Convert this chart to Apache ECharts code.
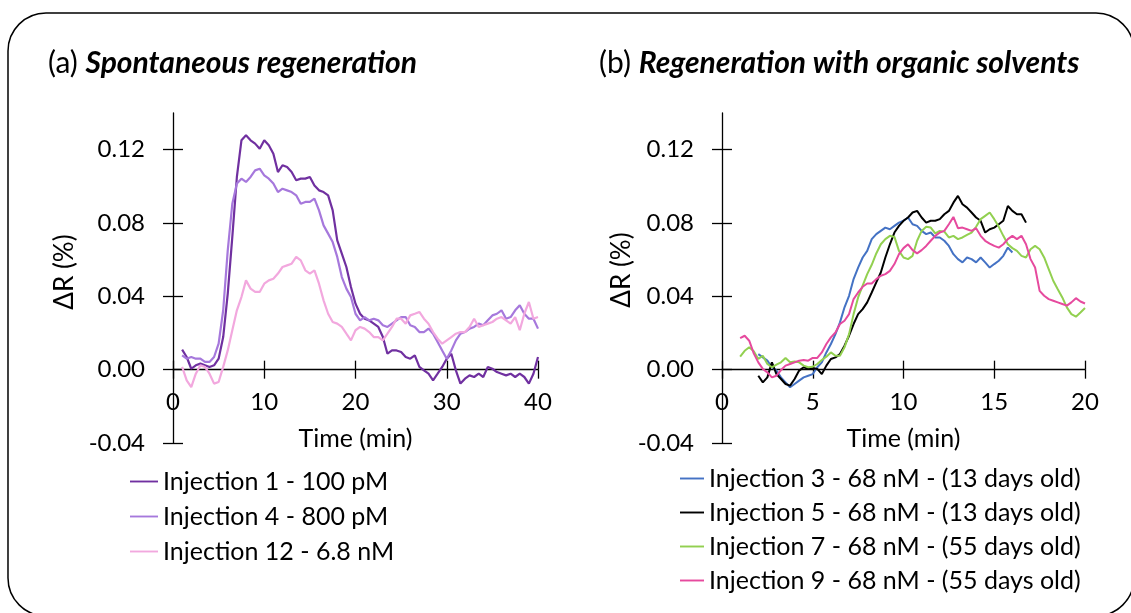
<!DOCTYPE html>
<html><head><meta charset="utf-8">
<script src="https://cdn.jsdelivr.net/npm/echarts@6/dist/echarts.min.js"></script>
<style>html,body{margin:0;padding:0;background:#fff}#c{width:1131px;height:613px}</style>
</head><body><div id="c"></div>
<script>
const FONT = 'Lato';

// ---- panel titles / axis texts ----
const titleA = ['(a) ', 'Spontaneous regeneration'];
const titleB = ['(b) ', 'Regeneration with organic solvents'];
const xName = 'Time (min)';
const yName = 'ΔR (%)';

// ---- tick values ----
const yTicks = [-0.04, 0, 0.04, 0.08, 0.12];
const leftXTicks = [0, 10, 20, 30, 40];
const rightXTicks = [0, 5, 10, 15, 20];

// ---- series names ----
const leftNames = ['Injection 1 - 100 pM', 'Injection 4 - 800 pM', 'Injection 12 - 6.8 nM'];
const rightNames = ['Injection 3 - 68 nM - (13 days old)', 'Injection 5 - 68 nM - (13 days old)',
  'Injection 7 - 68 nM - (55 days old)', 'Injection 9 - 68 nM - (55 days old)'];

// ---- left panel: samples every 0.5 min from t = 1 min ----
const leftStart = 1, leftStep = 0.5;
const inj1 = [0.0109,0.0069,0.0005,0.0024,0.0033,0.0024,0.0015,0.0024,0.0060,0.0178,
  0.0415,0.0724,0.1051,0.1251,0.1278,0.1251,0.1233,0.1205,0.1251,0.1224,
  0.1178,0.1078,0.1115,0.1105,0.1078,0.1033,0.1042,0.1042,0.1051,0.1005,
  0.0978,0.0969,0.0951,0.0869,0.0705,0.0633,0.0560,0.0451,0.0360,0.0305,
  0.0278,0.0269,0.0251,0.0233,0.0178,0.0087,0.0105,0.0105,0.0096,0.0069,
  0.0060,0.0078,0.0015,-0.0004,-0.0022,-0.0058,-0.0022,0.0015,0.0060,0.0087,
  -0.0004,-0.0076,-0.0049,-0.0031,-0.0040,-0.0022,-0.0040,0.0015,0.0005,-0.0013,
  -0.0022,-0.0031,-0.0022,-0.0040,-0.0022,-0.0040,-0.0076,-0.0022,0.0069];
const inj4 = [0.0078,0.0060,0.0069,0.0060,0.0060,0.0042,0.0042,0.0069,0.0142,0.0324,
  0.0651,0.0905,0.1015,0.1042,0.1024,0.1051,0.1087,0.1096,0.1060,0.1042,
  0.1015,0.0969,0.0987,0.0978,0.0969,0.0951,0.0905,0.0915,0.0915,0.0933,
  0.0869,0.0787,0.0742,0.0696,0.0615,0.0505,0.0442,0.0396,0.0305,0.0269,
  0.0287,0.0269,0.0278,0.0269,0.0242,0.0233,0.0251,0.0269,0.0287,0.0287,
  0.0242,0.0233,0.0205,0.0205,0.0224,0.0196,0.0151,0.0105,0.0060,0.0105,
  0.0160,0.0196,0.0205,0.0224,0.0233,0.0251,0.0242,0.0269,0.0296,0.0305,
  0.0324,0.0278,0.0287,0.0324,0.0351,0.0305,0.0278,0.0278,0.0224];
const inj12 = [0.0015,-0.0058,-0.0095,-0.0022,0.0024,0.0015,-0.0022,-0.0076,-0.0067,0.0015,
  0.0105,0.0215,0.0324,0.0396,0.0487,0.0442,0.0424,0.0424,0.0469,0.0487,
  0.0496,0.0524,0.0560,0.0569,0.0578,0.0615,0.0596,0.0542,0.0524,0.0542,
  0.0469,0.0378,0.0305,0.0260,0.0251,0.0233,0.0196,0.0160,0.0215,0.0233,
  0.0224,0.0205,0.0178,0.0178,0.0160,0.0196,0.0233,0.0278,0.0278,0.0251,
  0.0296,0.0305,0.0315,0.0278,0.0251,0.0205,0.0169,0.0142,0.0160,0.0178,
  0.0196,0.0205,0.0205,0.0233,0.0278,0.0233,0.0242,0.0251,0.0260,0.0278,
  0.0287,0.0269,0.0251,0.0287,0.0215,0.0305,0.0369,0.0278,0.0287];

// ---- right panel: samples every 0.25 min ----
const rightStep = 0.25;
const inj3Start = 2;
const inj3 = [0.0085,0.0067,0.0049,0.0013,-0.0005,-0.0042,-0.0069,-0.0096,-0.0078,-0.0060,
  -0.0042,-0.0033,-0.0024,0.0013,0.0040,0.0094,0.0140,0.0194,0.0258,0.0340,
  0.0403,0.0494,0.0557,0.0612,0.0648,0.0712,0.0739,0.0757,0.0775,0.0766,
  0.0784,0.0802,0.0812,0.0830,0.0793,0.0784,0.0757,0.0739,0.0748,0.0721,
  0.0721,0.0703,0.0675,0.0630,0.0603,0.0585,0.0612,0.0603,0.0585,0.0612,
  0.0585,0.0557,0.0576,0.0594,0.0621,0.0666,0.0639];
const inj5Start = 2;
const inj5 = [-0.0033,-0.0069,-0.0042,0.0040,-0.0024,-0.0051,-0.0078,-0.0087,-0.0051,-0.0005,
  0.0013,0.0004,0.0009,0.0004,-0.0024,0.0022,0.0058,0.0067,0.0085,0.0131,
  0.0185,0.0249,0.0303,0.0330,0.0367,0.0421,0.0476,0.0530,0.0612,0.0684,
  0.0748,0.0784,0.0812,0.0830,0.0857,0.0866,0.0830,0.0802,0.0812,0.0812,
  0.0821,0.0848,0.0866,0.0911,0.0948,0.0902,0.0884,0.0857,0.0830,0.0812,
  0.0748,0.0766,0.0775,0.0793,0.0812,0.0893,0.0866,0.0848,0.0848,0.0802];
const inj7Start = 1;
const inj7 = [0.0071,0.0103,0.0122,0.0100,0.0058,0.0076,0.0031,0.0013,0.0027,0.0040,
  0.0064,0.0040,0.0045,0.0040,0.0022,0.0013,0.0016,0.0031,0.0053,0.0071,
  0.0094,0.0076,0.0076,0.0122,0.0194,0.0303,0.0394,0.0458,0.0521,0.0572,
  0.0634,0.0684,0.0712,0.0730,0.0724,0.0648,0.0612,0.0603,0.0621,0.0703,
  0.0757,0.0779,0.0775,0.0743,0.0757,0.0753,0.0721,0.0730,0.0712,0.0721,
  0.0735,0.0748,0.0779,0.0821,0.0839,0.0857,0.0821,0.0779,0.0730,0.0684,
  0.0663,0.0648,0.0621,0.0612,0.0657,0.0675,0.0657,0.0612,0.0548,0.0485,
  0.0439,0.0394,0.0340,0.0303,0.0289,0.0312,0.0336];
const inj9Start = 1;
const inj9 = [0.0172,0.0185,0.0158,0.0089,0.0040,0.0004,-0.0015,-0.0042,-0.0033,-0.0002,
  0.0022,0.0031,0.0040,0.0049,0.0053,0.0049,0.0064,0.0064,0.0094,0.0140,
  0.0176,0.0203,0.0249,0.0267,0.0303,0.0385,0.0421,0.0452,0.0470,0.0470,
  0.0494,0.0512,0.0521,0.0539,0.0576,0.0630,0.0663,0.0684,0.0652,0.0634,
  0.0652,0.0675,0.0703,0.0730,0.0748,0.0757,0.0793,0.0833,0.0772,0.0775,
  0.0766,0.0757,0.0772,0.0730,0.0703,0.0688,0.0675,0.0666,0.0684,0.0712,
  0.0730,0.0712,0.0730,0.0684,0.0603,0.0557,0.0430,0.0403,0.0385,0.0376,
  0.0367,0.0358,0.0349,0.0367,0.0390,0.0372,0.0361];

const leftColors = ['#7030A0', '#A678DC', '#F2A8DE'];
const rightColors = ['#4472C4', '#000000', '#92D050', '#E64A9E'];

const pair = (t0, dt, vals) => vals.map((v, i) => [Math.round((t0 + i * dt) * 100) / 100, v]);

const black = '#000';
const axisLineStyle = { color: black, width: 1.3 };
const txt = { color: black, fontFamily: FONT };
const yMin = -0.04, yMax = 0.14;

function xRange(ticks) {
  return { type: 'value', min: ticks[0], max: ticks[ticks.length - 1], interval: ticks[1] - ticks[0], position: 'bottom' };
}
// x axis line + outward ticks, sitting on y = 0
function xLine(grid, ticks) {
  return { gridIndex: grid, ...xRange(ticks),
    axisLine: { show: true, onZero: true, lineStyle: axisLineStyle },
    axisTick: { show: true, inside: false, length: 9, lineStyle: axisLineStyle },
    axisLabel: { show: false }, splitLine: { show: false } };
}
// inward ticks, sitting on y = 0
function xInner(grid, ticks) {
  return { gridIndex: grid, ...xRange(ticks),
    axisLine: { show: false, onZero: true },
    axisTick: { show: true, inside: true, length: 9, lineStyle: axisLineStyle },
    axisLabel: { show: false }, splitLine: { show: false } };
}
// labels + title, on a grid whose bottom edge is the y = 0 line
function xLabels(grid, ticks) {
  return { gridIndex: grid, ...xRange(ticks),
    axisLine: { show: false, onZero: false }, axisTick: { show: false },
    axisLabel: { show: true, margin: 21, fontSize: 24, ...txt },
    splitLine: { show: false },
    name: xName, nameLocation: 'middle', nameGap: 57, nameTextStyle: { fontSize: 25, ...txt } };
}
function yMain(grid) {
  return { gridIndex: grid, type: 'value', min: yMin, max: yMax, interval: 0.04, position: 'left',
    axisLine: { show: true, onZero: false, lineStyle: axisLineStyle },
    axisTick: { show: true, inside: false, length: 10, customValues: yTicks, lineStyle: axisLineStyle },
    axisLabel: { show: true, customValues: yTicks, margin: 28, fontSize: 24, ...txt, formatter: v => v.toFixed(2) },
    splitLine: { show: false } };
}
function yInner(grid) {
  return { gridIndex: grid, type: 'value', min: yMin, max: yMax, interval: 0.04, position: 'left',
    axisLine: { show: false, onZero: false },
    axisTick: { show: true, inside: true, length: 10, customValues: yTicks, lineStyle: axisLineStyle },
    axisLabel: { show: false }, splitLine: { show: false } };
}
function yHidden(grid) {
  return { gridIndex: grid, type: 'value', min: 0, max: yMax, show: false };
}

const leftData = [pair(leftStart, leftStep, inj1), pair(leftStart, leftStep, inj4), pair(leftStart, leftStep, inj12)];
const rightData = [pair(inj3Start, rightStep, inj3), pair(inj5Start, rightStep, inj5),
  pair(inj7Start, rightStep, inj7), pair(inj9Start, rightStep, inj9)];

const series = [];
leftNames.forEach((n, i) => series.push({
  name: n, type: 'line', xAxisIndex: 0, yAxisIndex: 0, data: leftData[i],
  symbol: 'none', showSymbol: false, smooth: false, clip: false, animation: false,
  lineStyle: { color: leftColors[i], width: 2.2 }, itemStyle: { color: leftColors[i] }
}));
rightNames.forEach((n, i) => series.push({
  name: n, type: 'line', xAxisIndex: 1, yAxisIndex: 1, data: rightData[i],
  symbol: 'none', showSymbol: false, smooth: false, clip: false, animation: false,
  lineStyle: { color: rightColors[i], width: 2 }, itemStyle: { color: rightColors[i] }
}));

const titleRich = {
  n: { fontSize: 30, fontFamily: FONT, color: black, fontWeight: 'normal' },
  b: { fontSize: 30, fontFamily: FONT, color: black, fontWeight: 'bold', fontStyle: 'italic' }
};

// plot rectangles (y from 0.14 down to -0.04); label rectangles end at y = 0
const plotL = { left: 173, top: 113, width: 365, height: 330 };
const plotR = { left: 722, top: 113, width: 363, height: 330 };
const zeroFrac = yMax / (yMax - yMin);
const labL = { left: 173, top: 113, width: 365, height: Math.round(330 * zeroFrac * 10) / 10 };
const labR = { left: 722, top: 113, width: 363, height: Math.round(330 * zeroFrac * 10) / 10 };

const option = {
  backgroundColor: '#fff',
  animation: false,
  title: [
    { text: '{n|' + titleA[0] + '}{b|' + titleA[1] + '}', left: 43, top: 43,
      textStyle: { fontWeight: 'normal', rich: titleRich } },
    { text: '{n|' + titleB[0] + '}{b|' + titleB[1] + '}', left: 594, top: 43,
      textStyle: { fontWeight: 'normal', rich: titleRich } }
  ],
  graphic: [
    { type: 'rect', silent: true, z: -10,
      shape: { x: 8, y: 13, width: 1126, height: 603, r: 38 },
      style: { fill: 'none', stroke: black, lineWidth: 1.5 } },
    { type: 'text', silent: true, x: 65, y: 272, rotation: Math.PI / 2,
      style: { text: yName, fontSize: 26, fontFamily: FONT, fill: black, align: 'center', verticalAlign: 'middle' } },
    { type: 'text', silent: true, x: 622, y: 270, rotation: Math.PI / 2,
      style: { text: yName, fontSize: 26, fontFamily: FONT, fill: black, align: 'center', verticalAlign: 'middle' } }
  ],
  grid: [plotL, plotR, plotL, plotR, labL, labR],
  xAxis: [xLine(0, leftXTicks), xLine(1, rightXTicks), xInner(2, leftXTicks), xInner(3, rightXTicks),
    xLabels(4, leftXTicks), xLabels(5, rightXTicks)],
  yAxis: [yMain(0), yMain(1), yInner(2), yInner(3), yHidden(4), yHidden(5)],
  legend: [
    { data: leftNames, orient: 'vertical', left: 130, top: 469, padding: 0, itemWidth: 28, itemHeight: 14, itemGap: 10,
      icon: 'path://M0,0 L30,0 L30,2 L0,2 Z', textStyle: { fontSize: 25, ...txt } },
    { data: rightNames, orient: 'vertical', left: 680, top: 466, padding: 0, itemWidth: 24, itemHeight: 14, itemGap: 9,
      icon: 'path://M0,0 L25,0 L25,2 L0,2 Z', textStyle: { fontSize: 25, ...txt } }
  ],
  series: series
};

const chart = echarts.init(document.getElementById('c'), null, { renderer: 'canvas' });
chart.setOption(option);
</script></body></html>
